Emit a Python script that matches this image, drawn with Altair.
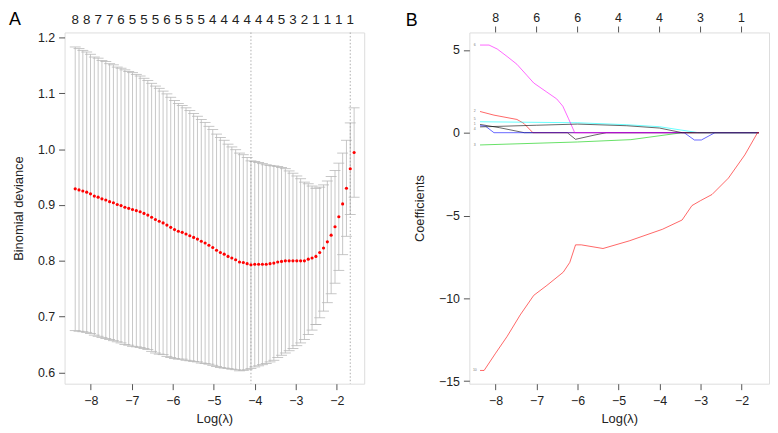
import altair as alt
import pandas as pd

FONT = "Liberation Sans"
INK = "#222222"
FRAME = "#555555"

# ---------------- Panel A: cross-validation curve ----------------
log_lambda = [
    -8.380, -8.287, -8.194, -8.100, -8.007, -7.914, -7.821, -7.728, -7.634, -7.541,
    -7.448, -7.355, -7.262, -7.168, -7.075, -6.982, -6.889, -6.796, -6.702, -6.609,
    -6.516, -6.423, -6.330, -6.236, -6.143, -6.050, -5.957, -5.864, -5.770, -5.677,
    -5.584, -5.491, -5.398, -5.304, -5.211, -5.118, -5.025, -4.932, -4.838, -4.745,
    -4.652, -4.559, -4.466, -4.372, -4.279, -4.186, -4.093, -4.000, -3.906, -3.813,
    -3.720, -3.627, -3.534, -3.440, -3.347, -3.254, -3.161, -3.068, -2.974, -2.881,
    -2.788, -2.695, -2.602, -2.508, -2.415, -2.322, -2.229, -2.136, -2.042, -1.949,
    -1.856, -1.763, -1.670, -1.576]

cv_mean = [
    0.929, 0.927, 0.925, 0.923, 0.920, 0.916, 0.914, 0.911, 0.909, 0.906,
    0.904, 0.901, 0.899, 0.896, 0.894, 0.892, 0.890, 0.888, 0.885, 0.882,
    0.878, 0.874, 0.871, 0.868, 0.864, 0.860, 0.856, 0.853, 0.851, 0.848,
    0.845, 0.842, 0.839, 0.835, 0.832, 0.828, 0.824, 0.819, 0.815, 0.812,
    0.808, 0.805, 0.802, 0.798, 0.797, 0.795, 0.793, 0.794, 0.794, 0.794,
    0.794, 0.795, 0.796, 0.798, 0.799, 0.800, 0.800, 0.800, 0.800, 0.800,
    0.800, 0.803, 0.805, 0.808, 0.815, 0.823, 0.834, 0.846, 0.861, 0.879,
    0.902, 0.930, 0.965, 0.994]

cv_se = [
    0.254, 0.253, 0.252, 0.251, 0.250, 0.249, 0.249, 0.248, 0.248, 0.247,
    0.247, 0.246, 0.246, 0.246, 0.245, 0.245, 0.244, 0.243, 0.242, 0.241,
    0.240, 0.239, 0.238, 0.236, 0.235, 0.233, 0.231, 0.229, 0.227, 0.226,
    0.224, 0.222, 0.220, 0.218, 0.216, 0.213, 0.211, 0.208, 0.206, 0.204,
    0.201, 0.199, 0.197, 0.195, 0.193, 0.190, 0.186, 0.184, 0.182, 0.180,
    0.178, 0.176, 0.174, 0.171, 0.168, 0.165, 0.161, 0.157, 0.152, 0.147,
    0.141, 0.135, 0.129, 0.122, 0.117, 0.113, 0.109, 0.105, 0.101, 0.096,
    0.091, 0.086, 0.082, 0.080]

# number of non-zero coefficients shown along the top (every third lambda)
nzero_idx = [0, 3, 6, 9, 12, 15, 18, 21, 24, 27, 30, 33, 36, 39, 42, 45, 48, 51,
             54, 57, 60, 63, 66, 69, 72]
nzero_labels = ["8", "8", "7", "7", "6", "5", "5", "5", "6", "5", "5", "5", "4",
                "4", "4", "4", "4", "4", "5", "3", "2", "1", "1", "1", "1"]

lambda_min_idx = 46
lambda_1se_idx = 72

x_ticks = [-8, -7, -6, -5, -4, -3, -2]
yA_ticks = [0.6, 0.7, 0.8, 0.9, 1.0, 1.1, 1.2]

# ---------------- Panel B: coefficient paths ----------------
path_names = ["v1", "v2", "v3", "v4", "v5", "v6", "v9", "v10"]
path_colors = ["#000000", "#FF0000", "#00CD00", "#0000FF", "#00FFFF",
               "#FF00FF", "#000000", "#FF0000"]
path_L = {
    "v1": [-8.38, -7.90, -7.30, -6.25, -6.05, -5.60, -5.30, -1.576],
    "v2": [-8.38, -8.04, -7.48, -7.31, -7.09, -1.576],
    "v3": [-8.38, -6.00, -4.70, -3.45, -1.576],
    "v4": [-8.38, -8.25, -8.04, -3.40, -3.15, -2.98, -2.65, -1.576],
    "v5": [-8.38, -6.00, -4.80, -4.00, -3.50, -3.05, -1.576],
    "v6": [-8.38, -8.16, -7.96, -7.72, -7.48, -7.24, -7.07, -6.75, -6.51, -6.36,
           -6.22, -6.07, -1.576],
    "v9": [-8.38, -7.00, -6.00, -4.80, -4.00, -3.45, -1.576],
    "v10": [-8.38, -8.28, -8.00, -7.72, -7.40, -7.07, -6.75, -6.35, -6.19, -6.05,
            -5.91, -5.38, -4.74, -3.93, -3.45, -3.21, -3.00, -2.72, -2.32, -1.92,
            -1.61, -1.576],
}
path_c = {
    "v1": [0.50, 0.30, 0.00, 0.00, -0.40, -0.15, 0.00, 0.00],
    "v2": [1.28, 1.06, 0.80, 0.56, 0.00, 0.00],
    "v3": [-0.74, -0.56, -0.42, 0.00, 0.00],
    "v4": [0.42, 0.40, 0.00, 0.00, -0.44, -0.44, 0.00, 0.00],
    "v5": [0.66, 0.60, 0.48, 0.36, 0.17, 0.00, 0.00],
    "v6": [5.29, 5.29, 5.05, 4.60, 4.13, 3.47, 3.00, 2.45, 2.04, 1.60, 0.84, 0.00, 0.00],
    "v9": [0.35, 0.45, 0.52, 0.42, 0.28, 0.00, 0.00],
    "v10": [-14.35, -14.35, -13.31, -12.30, -11.00, -9.82, -9.22, -8.42, -7.83, -6.77,
            -6.77, -6.99, -6.53, -5.83, -5.27, -4.40, -4.10, -3.73, -2.74, -1.34,
            0.00, 0.00],
}
# tiny variable labels at the left end of the paths
var_label_text = ["6", "2", "5", "1", "4", "3", "10"]
var_label_c = [5.29, 1.28, 0.85, 0.55, 0.25, -0.74, -14.35]

top_B_ticks = [-8, -7, -6, -5, -4, -3, -2]
top_B_labels = ["8", "6", "6", "4", "4", "3", "1"]
yB_ticks = [-15, -10, -5, 0, 5]

# ---------------- common styling ----------------
W, H = 302, 354
xscale = alt.Scale(domain=[-8.64, -1.33], nice=False, zero=False)


def x_axis():
    return alt.Axis(values=x_ticks, format="d", title="Log(λ)", grid=False,
                    domain=False, tickSize=6, tickColor=FRAME, tickWidth=1,
                    labelPadding=5, titlePadding=6, labelFontSize=12.5,
                    titleFontSize=13, labelFont=FONT, titleFont=FONT,
                    labelColor=INK, titleColor=INK, titleFontWeight="normal")


def y_axis(vals, fmt, title):
    return alt.Axis(values=vals, format=fmt, title=title, grid=False,
                    domain=False, tickSize=6, tickColor=FRAME, tickWidth=1,
                    labelPadding=4, titlePadding=12, labelFontSize=12.5,
                    titleFontSize=13, labelFont=FONT, titleFont=FONT,
                    labelColor=INK, titleColor=INK, titleFontWeight="normal")


# ---------------- Panel A ----------------
cv = pd.DataFrame({"L": log_lambda, "m": cv_mean, "se": cv_se})
cv["lo"] = cv["m"] - cv["se"]
cv["hi"] = cv["m"] + cv["se"]

yA_scale = alt.Scale(domain=[0.58, 1.209], nice=False, zero=False)
yA_axis = y_axis(yA_ticks, ".1f", "Binomial deviance")
baseA = alt.Chart(cv)

bars = baseA.mark_rule(color="#B8B8B8", strokeWidth=0.8).encode(
    x=alt.X("L:Q", scale=xscale, axis=x_axis()),
    y=alt.Y("lo:Q", scale=yA_scale, axis=yA_axis),
    y2="hi:Q",
)
cap_hi = baseA.mark_tick(orient="horizontal", size=11, thickness=0.8,
                         color="#B8B8B8", opacity=1).encode(
    x=alt.X("L:Q", scale=xscale, axis=x_axis()),
    y=alt.Y("hi:Q", scale=yA_scale, axis=yA_axis))
cap_lo = baseA.mark_tick(orient="horizontal", size=11, thickness=0.8,
                         color="#B8B8B8", opacity=1).encode(
    x=alt.X("L:Q", scale=xscale, axis=x_axis()),
    y=alt.Y("lo:Q", scale=yA_scale, axis=yA_axis))
dots = baseA.mark_circle(size=10, color="#FF0000", opacity=1).encode(
    x=alt.X("L:Q", scale=xscale, axis=x_axis()),
    y=alt.Y("m:Q", scale=yA_scale, axis=yA_axis))

vlines = alt.Chart(pd.DataFrame({"L": [log_lambda[lambda_min_idx],
                                       log_lambda[lambda_1se_idx]]})).mark_rule(
    color="#999999", strokeDash=[1.5, 2], strokeWidth=0.8).encode(
    x=alt.X("L:Q", scale=xscale, axis=x_axis()))

topA = alt.Chart(pd.DataFrame({"L": [log_lambda[i] for i in nzero_idx],
                               "t": nzero_labels})).mark_text(
    font=FONT, fontSize=13.5, color=INK, baseline="middle", align="center").encode(
    x=alt.X("L:Q", scale=xscale, axis=x_axis()), y=alt.value(-13), text="t:N")

letterA = alt.Chart(pd.DataFrame({"t": ["A"]})).mark_text(
    font=FONT, fontSize=18, color="#000000", baseline="middle", align="center").encode(
    x=alt.value(-50), y=alt.value(-13), text="t:N")

panelA = alt.layer(bars, cap_hi, cap_lo, vlines, dots, topA, letterA).properties(
    width=W, height=H)

# ---------------- Panel B ----------------
yB_scale = alt.Scale(domain=[-15.15, 6.05], nice=False, zero=False)
yB_axis = y_axis(yB_ticks, "d", "Coefficients")
color_scale = alt.Scale(domain=path_names, range=path_colors)

line_layers = []
for name in path_names:
    df = pd.DataFrame({"L": path_L[name], "c": path_c[name], "var": name})
    df["o"] = range(len(df))
    line_layers.append(alt.Chart(df).mark_line(strokeWidth=0.8, opacity=0.75).encode(
        x=alt.X("L:Q", scale=xscale, axis=x_axis()),
        y=alt.Y("c:Q", scale=yB_scale, axis=yB_axis),
        color=alt.Color("var:N", scale=color_scale, legend=None),
        order=alt.Order("o:Q"),
    ))

var_labels = alt.Chart(pd.DataFrame({"c": var_label_c, "t": var_label_text})).mark_text(
    font=FONT, fontSize=3.5, color="#777777", baseline="middle", align="center").encode(
    x=alt.value(5.5), y=alt.Y("c:Q", scale=yB_scale, axis=yB_axis), text="t:N")

topB_df = pd.DataFrame({"L": top_B_ticks, "t": top_B_labels})
topB_ticks = alt.Chart(topB_df).mark_rule(color=FRAME, strokeWidth=1).encode(
    x=alt.X("L:Q", scale=xscale, axis=x_axis()), y=alt.value(-6), y2=alt.value(0))
topB_text = alt.Chart(topB_df).mark_text(
    font=FONT, fontSize=12.5, color=INK, baseline="middle", align="center").encode(
    x=alt.X("L:Q", scale=xscale, axis=x_axis()), y=alt.value(-15), text="t:N")

letterB = alt.Chart(pd.DataFrame({"t": ["B"]})).mark_text(
    font=FONT, fontSize=18, color="#000000", baseline="middle", align="center").encode(
    x=alt.value(-58), y=alt.value(-12), text="t:N")

panelB = alt.layer(*line_layers, var_labels, topB_ticks, topB_text, letterB).properties(
    width=W, height=H)

chart = alt.hconcat(panelA, panelB, spacing=106, bounds="flush").properties(
    padding={"left": 0, "top": 0, "right": 0, "bottom": 0}
).configure_view(stroke=FRAME, strokeWidth=1.3).configure(background="white")

chart.save("out.html", embed_options={"renderer": "svg", "actions": False})
